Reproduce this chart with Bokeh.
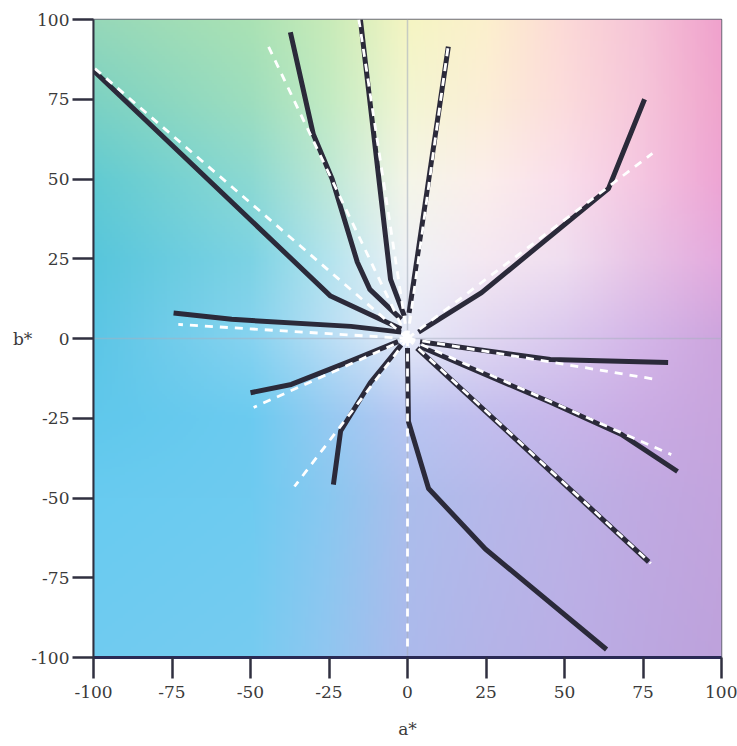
import numpy as np
from bokeh.plotting import figure
from bokeh.models import FixedTicker
from bokeh.embed import file_html
from bokeh.resources import INLINE

# ---- axis ticks ----
tick_values = [-100, -75, -50, -25, 0, 25, 50, 75, 100]
tick_labels = ["-100", "-75", "-50", "-25", "0", "25", "50", "75", "100"]
axis_min, axis_max = -100, 100

# ---- measured (solid black) hue lines: a*, b* ----
black_a = [
    [-2, -24.5, -100],
    [-2, -12, -16, -24, -30, -37.3],
    [-1, -5.4, -15],
    [0.5, 13],
    [3.5, 23.6, 64, 75.5],
    [4, 45.5, 83],
    [4, 45.5, 68, 86],
    [3, 76.8],
    [0, 0.3, 6.7, 24.8, 63.4],
    [-2, -11.8, -21.3, -23.6],
    [-3, -18, -37, -50],
    [-2, -18, -56, -74.5],
]
black_b = [
    [3, 13.3, 84],
    [6, 15.4, 24, 50, 64, 96],
    [7, 18.5, 100],
    [8, 91.5],
    [2, 14.4, 47, 75],
    [-1, -6.6, -7.5],
    [-2.5, -20, -30, -41.7],
    [-3, -70],
    [-3, -26, -47, -66, -97.5],
    [-2, -13.8, -29, -45.8],
    [-1, -7, -14.4, -17],
    [2, 3.8, 6, 8],
]

# ---- constant hue-angle (white dashed) lines: end points from origin ----
dash_a_end = [-100, -45, -15.5, 13, 78, 79.6, 84, 77.5, 0, -36, -49, -73]
dash_b_end = [85, 93, 100, 92, 58, -12.9, -36.4, -70.5, -97.5, -46.4, -21.6, 4.4]

# ---- background colour samples on an a*/b* grid ----
bg_a = [-100, -50, -25, 0, 25, 50, 75, 100]
bg_b = [-100, -50, -25, 0, 25, 50, 75, 100]
bg_rgb = [
    [(112, 204, 240), (118, 204, 240), (145, 198, 240), (172, 186, 236), (180, 180, 232), (186, 175, 230), (188, 168, 225), (190, 162, 220)],
    [(104, 203, 240), (110, 203, 240), (138, 200, 240), (172, 190, 236), (182, 184, 234), (188, 178, 230), (192, 170, 226), (195, 164, 222)],
    [(96, 200, 236), (108, 203, 240), (150, 202, 242), (185, 198, 242), (195, 190, 238), (200, 182, 234), (202, 172, 228), (200, 165, 222)],
    [(92, 198, 230), (135, 211, 240), (185, 222, 245), (230, 234, 248), (225, 215, 242), (218, 200, 238), (212, 182, 232), (205, 165, 222)],
    [(88, 198, 220), (125, 211, 228), (180, 228, 238), (240, 242, 246), (245, 232, 242), (240, 222, 240), (232, 195, 230), (228, 170, 222)],
    [(98, 203, 210), (140, 217, 210), (190, 232, 215), (245, 246, 232), (252, 238, 235), (250, 222, 235), (245, 198, 225), (238, 165, 212)],
    [(125, 210, 195), (158, 222, 190), (195, 235, 195), (243, 246, 210), (252, 238, 215), (252, 220, 220), (246, 198, 218), (240, 165, 205)],
    [(150, 216, 185), (170, 226, 180), (200, 235, 185), (245, 245, 195), (252, 240, 205), (252, 218, 215), (246, 196, 215), (240, 162, 205)],
]

# build background image (bilinear interpolation of the colour samples)
N = 240
fa = np.linspace(axis_min, axis_max, N)
fb = np.linspace(axis_min, axis_max, N)
grid = np.array(bg_rgb, dtype=float)  # (nb, na, 3)
rows = np.zeros((len(bg_b), N, 3))
for i in range(len(bg_b)):
    for c in range(3):
        rows[i, :, c] = np.interp(fa, bg_a, grid[i, :, c])
full = np.zeros((N, N, 3))
for j in range(N):
    for c in range(3):
        full[:, j, c] = np.interp(fb, bg_b, rows[:, j, c])
img = np.empty((N, N), dtype=np.uint32)
view = img.view(dtype=np.uint8).reshape((N, N, 4))
for c in range(3):
    view[:, :, c] = np.clip(full[:, :, c], 0, 255).astype(np.uint8)
view[:, :, 3] = 255

p = figure(width=737, height=746, x_range=(axis_min, axis_max), y_range=(axis_min, axis_max),
           output_backend="svg", toolbar_location=None,
           min_border_left=93, min_border_right=16, min_border_top=19, min_border_bottom=89)
p.background_fill_color = "white"
p.border_fill_color = "white"
p.grid.visible = False
p.outline_line_color = "#6a6a78"
p.outline_line_width = 1.5

p.image_rgba(image=[img], x=axis_min, y=axis_min, dw=axis_max - axis_min, dh=axis_max - axis_min)

# faint zero lines
p.line(x=[0, 0], y=[axis_min, axis_max], line_color="#a8b0bf", line_width=1.5, line_alpha=0.6)
p.line(x=[axis_min, axis_max], y=[0, 0], line_color="#a8b0bf", line_width=1.5, line_alpha=0.5)

p.multi_line(xs=black_a, ys=black_b, line_color="#2b2a3a", line_width=5, line_join="round")
p.multi_line(xs=[[0, a] for a in dash_a_end], ys=[[0, b] for b in dash_b_end],
             line_color="white", line_width=2.8, line_dash="8 7")
p.scatter(x=[0], y=[0], size=9, color="white")

overrides = {v: l for v, l in zip(tick_values, tick_labels)}
for ax in (p.xaxis[0], p.yaxis[0]):
    ax.ticker = FixedTicker(ticks=tick_values)
    ax.major_label_overrides = overrides
    ax.minor_tick_line_color = None
    ax.major_tick_in = 0
    ax.major_tick_out = 21
    ax.major_tick_line_width = 2.5
    ax.major_tick_line_color = "#303040"
    ax.major_label_text_font = "DejaVu Serif"
    ax.major_label_text_font_size = "17px"
    ax.major_label_text_color = "#3a3a3a"
    ax.axis_label_text_font = "DejaVu Serif"
    ax.axis_label_text_font_size = "17px"
    ax.axis_label_text_font_style = "normal"
    ax.axis_label_text_color = "#3a3a3a"
p.yaxis.axis_line_color = "#303040"
p.yaxis.axis_line_width = 2
p.yaxis.major_label_standoff = 3
p.yaxis.axis_label = "b*"
p.yaxis.axis_label_orientation = "horizontal"
p.yaxis.axis_label_standoff = -4
p.xaxis.axis_line_color = "#2a2a55"
p.xaxis.axis_line_width = 3
p.xaxis.major_label_standoff = 7
p.xaxis.axis_label = "a*"
p.xaxis.axis_label_standoff = 18

open("out.html", "w").write(file_html(p, INLINE))
